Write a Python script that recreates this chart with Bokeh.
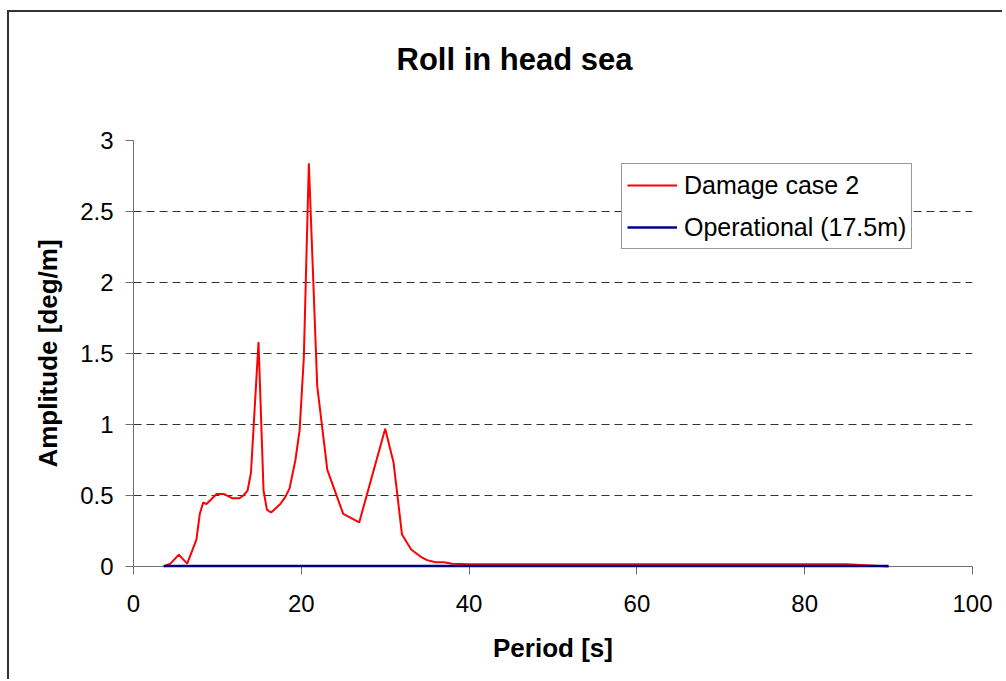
from bokeh.plotting import figure
from bokeh.models import Range1d, FixedTicker, CustomJSTickFormatter, Legend, LegendItem
from bokeh.embed import file_html
from bokeh.resources import INLINE

period = [3.6, 4.4, 5.4, 6.4, 7.5, 7.9, 8.3, 8.7, 9.9, 10.8, 11.8, 12.6, 13.1, 13.6,
          14.0, 14.9, 15.5, 15.9, 16.4, 17.5, 18.1, 18.6, 19.3, 19.8, 20.3, 20.9,
          21.9, 23.1, 25.0, 26.9, 30.0, 31.0, 32.0, 33.1, 34.2, 35.0, 36.0, 37.0,
          38.0, 40.0, 50.0, 60.0, 70.0, 80.0, 85.0, 90.0]
damage_case_2 = [0.0, 0.02, 0.084, 0.02, 0.19, 0.37, 0.45, 0.44, 0.51, 0.51, 0.48, 0.48,
                 0.50, 0.535, 0.66, 1.58, 0.535, 0.40, 0.38, 0.44, 0.49, 0.55, 0.75,
                 0.96, 1.47, 2.84, 1.27, 0.68, 0.37, 0.31, 0.97, 0.73, 0.225, 0.12,
                 0.07, 0.045, 0.03, 0.03, 0.02, 0.015, 0.015, 0.015, 0.015, 0.015,
                 0.015, 0.0]
operational = [0.003, 0.003, 0.003, 0.003, 0.003, 0.003, 0.003, 0.003, 0.003, 0.003,
               0.003, 0.003, 0.003, 0.003, 0.003, 0.003, 0.003, 0.003, 0.003, 0.003,
               0.003, 0.003, 0.003, 0.003, 0.003, 0.003, 0.003, 0.003, 0.003, 0.003,
               0.003, 0.003, 0.003, 0.003, 0.003, 0.003, 0.003, 0.003, 0.003, 0.003,
               0.003, 0.003, 0.003, 0.003, 0.003, 0.003]
x_ticks = [0, 20, 40, 60, 80, 100]
y_ticks = [0, 0.5, 1, 1.5, 2, 2.5, 3]
title_text = "Roll in head sea"

FONT = "Liberation Sans"

p = figure(width=995, height=669, output_backend="svg", toolbar_location=None,
           x_range=Range1d(0, 100), y_range=Range1d(0, 3),
           min_border_left=124, min_border_right=32, min_border_top=128,
           min_border_bottom=115)
p.margin = (10, 0, 0, 7)
p.styles = {"border-top": "2px solid #333333", "border-left": "2px solid #333333"}
p.outline_line_color = None
p.background_fill_color = "white"
p.border_fill_color = "white"

# second (blank) line only reserves space so the title sits high above the frame
p.title.text = title_text + "\n "
p.title.align = "left"
p.title.offset = 263
p.title.vertical_align = "top"
p.title.standoff = 54
p.title.text_font = FONT
p.title.text_font_size = "31px"
p.title.text_font_style = "bold"
p.title.text_color = "black"

r1 = p.line(period, damage_case_2, line_color="#FF0000", line_width=2, level="overlay")
r2 = p.line(period, operational, line_color="#000080", line_width=2.5, level="overlay")

p.xaxis.ticker = FixedTicker(ticks=x_ticks)
p.yaxis.ticker = FixedTicker(ticks=y_ticks)
p.yaxis.formatter = CustomJSTickFormatter(code="return String(tick);")
p.xaxis.minor_tick_line_color = None
p.yaxis.minor_tick_line_color = None
for ax in (p.xaxis, p.yaxis):
    ax.axis_line_color = "#707070"
    ax.major_tick_line_color = "#707070"
    ax.major_tick_in = 0
    ax.major_tick_out = 8
    ax.major_label_text_font = FONT
    ax.major_label_text_font_size = "24px"
    ax.major_label_text_color = "black"
    ax.axis_label_text_font = FONT
    ax.axis_label_text_font_size = "26px"
    ax.axis_label_text_font_style = "bold"
    ax.axis_label_text_color = "black"
p.xaxis.axis_label = "Period [s]"
p.yaxis.axis_label = "Amplitude [deg/m]"
p.xaxis.major_label_standoff = 20
p.yaxis.major_label_standoff = 12
p.xaxis.axis_label_standoff = 18
p.yaxis.axis_label_standoff = 14

p.xgrid.grid_line_color = None
p.ygrid.ticker = FixedTicker(ticks=y_ticks)
p.ygrid.grid_line_color = "#333333"
p.ygrid.grid_line_dash = "8 5"
p.ygrid.grid_line_width = 1

legend = Legend(items=[LegendItem(label="Damage case 2", renderers=[r1]),
                       LegendItem(label="Operational (17.5m)", renderers=[r2])],
                location=(488, 317))
legend.border_line_color = "#333333"
legend.border_line_width = 1
legend.background_fill_color = "white"
legend.background_fill_alpha = 1
legend.padding = 5
legend.spacing = 10
legend.margin = 0
legend.glyph_width = 50
legend.glyph_height = 32
legend.label_height = 32
legend.label_standoff = 7
legend.label_text_font = FONT
legend.label_text_font_size = "25px"
legend.label_text_color = "black"
p.add_layout(legend)

open("out.html", "w").write(file_html(p, INLINE))
